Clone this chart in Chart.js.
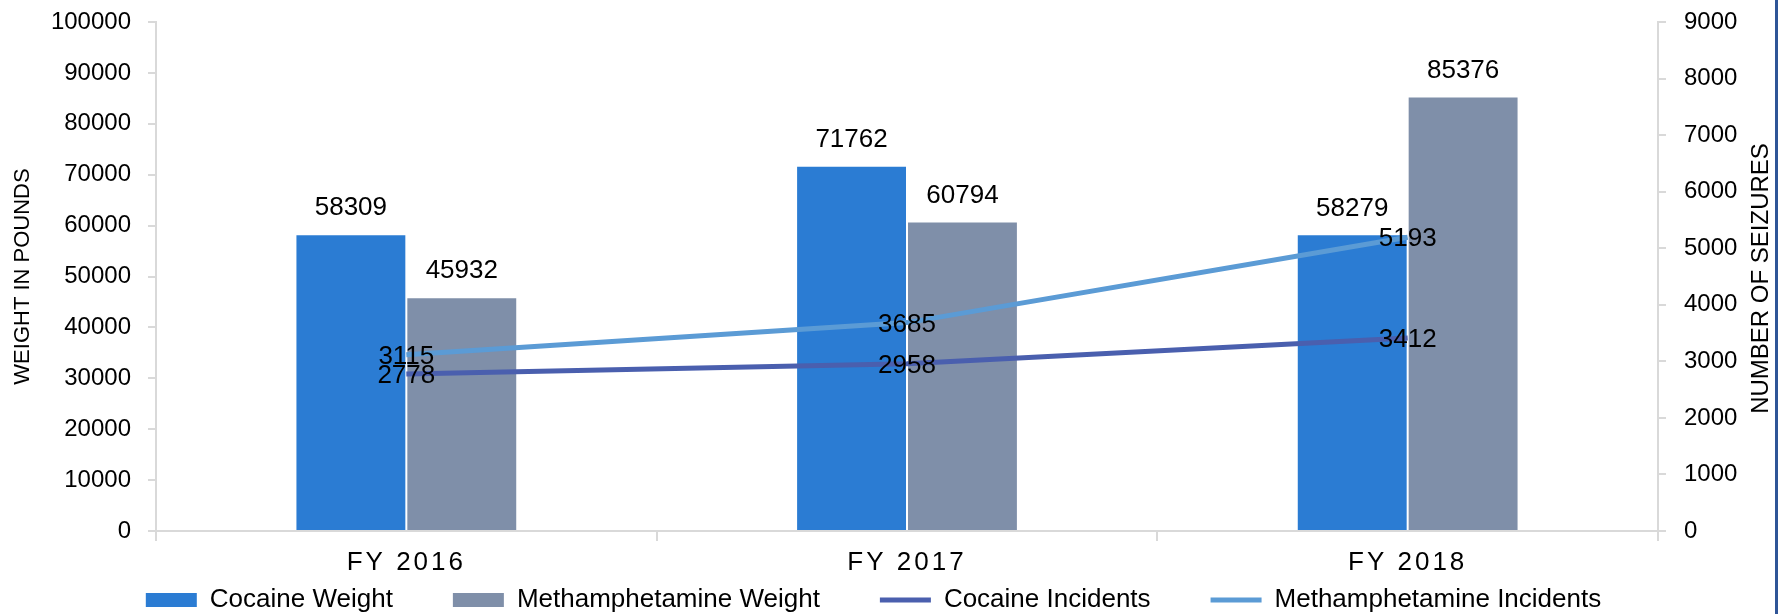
<!DOCTYPE html>
<html>
<head>
<meta charset="utf-8">
<script src="https://cdn.jsdelivr.net/npm/chart.js@4.4.1/dist/chart.umd.min.js"></script>
<style>
  html, body { margin: 0; padding: 0; background: #fff; }
  #wrap { width: 1783px; height: 614px; }
</style>
</head>
<body>
<div id="wrap"><canvas id="chart" width="1783" height="614"></canvas></div>
<script>
// values
const categories = ["FY 2016", "FY 2017", "FY 2018"];
const cocaineWeight = [58309, 71762, 58279];
const methWeight = [45932, 60794, 85376];
const cocaineIncidents = [2778, 2958, 3412];
const methIncidents = [3115, 3685, 5193];

const weightMax = 100000, weightStep = 10000;
const seizuresMax = 9000, seizuresStep = 1000;

const FONT = '"Liberation Sans", Arial, sans-serif';
const AXIS = "#d9d9d9";

// fixed axis widths, no extra label padding top/bottom
function fitY(width) {
  return s => {
    s.width = width;
    s.paddingTop = 0;
    s.paddingBottom = 0;
  };
}

// value labels, right axis title and the frame edge
const extras = {
  id: "extras",
  afterLayout(chart) {
    // legend sits lower than its reserved box
    const lg = chart.legend;
    lg.top = 527;
    lg.bottom = 614;
    lg.left = -18;
    lg.right = 1765;

    const x = chart.scales.x;
    if (!x._spaced) {
      const orig = x.drawLabels;
      x.drawLabels = function (area) {
        const c = this.ctx;
        c.save();
        c.letterSpacing = "3px";
        orig.call(this, area);
        c.restore();
      };
      x._spaced = true;
    }
  },
  afterDatasetsDraw(chart) {
    const ctx = chart.ctx;
    ctx.save();
    ctx.font = "26px " + FONT;
    ctx.fillStyle = "#000";
    ctx.textAlign = "center";
    ctx.textBaseline = "middle";
    chart.data.datasets.forEach((ds, i) => {
      const meta = chart.getDatasetMeta(i);
      meta.data.forEach((el, j) => {
        const dy = ds.type === "line" ? 2 : -26;
        ctx.fillText(String(ds.data[j]), el.x, el.y + dy);
      });
    });
    ctx.restore();
  },
  afterDraw(chart) {
    const ctx = chart.ctx;
    const a = chart.chartArea;
    ctx.save();
    ctx.font = "24px " + FONT;
    ctx.fillStyle = "#000";
    ctx.textAlign = "center";
    ctx.textBaseline = "middle";
    ctx.translate(1761, (a.top + a.bottom) / 2 + 2);
    ctx.rotate(-Math.PI / 2);
    ctx.fillText("NUMBER OF SEIZURES", 0, 0);
    ctx.restore();

    ctx.save();
    ctx.fillStyle = "#2f5597";
    ctx.fillRect(1775, 0, 3, chart.height);
    ctx.restore();
  }
};

new Chart(document.getElementById("chart"), {
  type: "bar",
  data: {
    labels: categories,
    datasets: [
      {
        label: "Cocaine Weight",
        data: cocaineWeight,
        backgroundColor: "#2b7cd3",
        borderColor: "rgba(255,255,255,0.5)",
        borderWidth: 1,
        yAxisID: "y",
        order: 1
      },
      {
        label: "Methamphetamine Weight",
        data: methWeight,
        backgroundColor: "#7f8fa9",
        borderColor: "rgba(255,255,255,0.5)",
        borderWidth: 1,
        yAxisID: "y",
        order: 1
      },
      {
        type: "line",
        label: "Cocaine Incidents",
        data: cocaineIncidents,
        borderColor: "#4a5fae",
        backgroundColor: "#4a5fae",
        borderWidth: 5,
        pointRadius: 0,
        yAxisID: "y1",
        order: 0
      },
      {
        type: "line",
        label: "Methamphetamine Incidents",
        data: methIncidents,
        borderColor: "#5b9bd5",
        backgroundColor: "#5b9bd5",
        borderWidth: 5,
        pointRadius: 0,
        yAxisID: "y1",
        order: 0
      }
    ]
  },
  options: {
    responsive: false,
    animation: false,
    categoryPercentage: 0.443,
    barPercentage: 1,
    layout: { padding: { top: 22, bottom: 0, left: 0, right: 0 } },
    plugins: {
      tooltip: { enabled: false },
      legend: {
        position: "bottom",
        maxHeight: 33,
        labels: {
          font: { size: 26, family: FONT },
          color: "#000",
          padding: 60,
          usePointStyle: true,
          pointStyleWidth: 51,
          boxHeight: 14,
          sort: (a, b) => a.datasetIndex - b.datasetIndex,
          generateLabels(chart) {
            const items = Chart.defaults.plugins.legend.labels.generateLabels(chart);
            items.forEach(it => {
              const ds = chart.data.datasets[it.datasetIndex];
              if (ds.type === "line") {
                it.pointStyle = "line";
                it.lineWidth = 5;
                it.strokeStyle = ds.borderColor;
              } else {
                it.pointStyle = "rect";
                it.lineWidth = 0;
                it.fillStyle = ds.backgroundColor;
              }
            });
            return items;
          }
        }
      }
    },
    scales: {
      x: {
        afterFit: s => { s.height = 50; },
        grid: {
          drawOnChartArea: false,
          drawTicks: true,
          tickLength: 10,
          color: AXIS,
          lineWidth: 2
        },
        border: { color: AXIS, width: 2 },
        ticks: {
          color: "#000",
          padding: 6,
          font: { size: 26, family: FONT }
        }
      },
      y: {
        position: "left",
        min: 0,
        max: weightMax,
        afterFit: fitY(156),
        grid: { drawOnChartArea: false, tickLength: 8, color: AXIS, lineWidth: 2 },
        border: { color: AXIS, width: 2 },
        ticks: {
          stepSize: weightStep,
          color: "#000",
          padding: 17,
          font: { size: 24, family: FONT },
          callback: v => String(v)
        },
        title: {
          display: true,
          text: "WEIGHT IN POUNDS",
          color: "#000",
          font: { size: 22, family: FONT },
          padding: { top: 10, bottom: 0 }
        }
      },
      y1: {
        position: "right",
        min: 0,
        max: seizuresMax,
        afterFit: fitY(125),
        grid: { drawOnChartArea: false, tickLength: 8, color: AXIS, lineWidth: 2 },
        border: { color: AXIS, width: 2 },
        ticks: {
          stepSize: seizuresStep,
          color: "#000",
          padding: 18,
          font: { size: 24, family: FONT },
          callback: v => String(v)
        }
      }
    }
  },
  plugins: [extras]
});
</script>
</body>
</html>
